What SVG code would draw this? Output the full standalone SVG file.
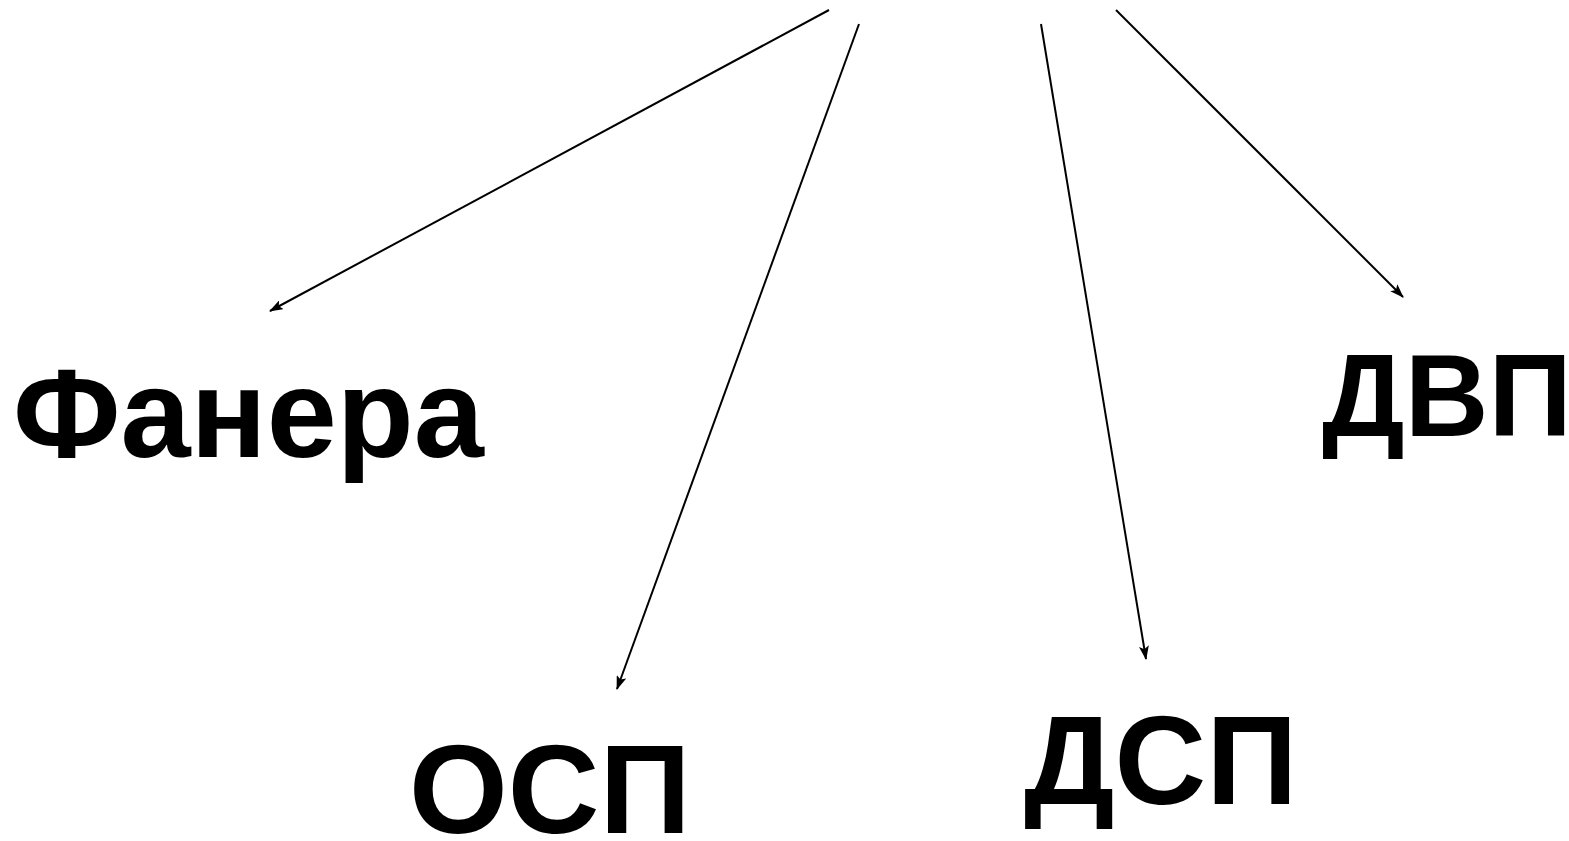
<svg xmlns="http://www.w3.org/2000/svg" width="1569" height="841" viewBox="0 0 1569 841">
<style>
.lbl{font-family:"Liberation Sans",Arial,sans-serif;font-weight:bold;fill:#000}
.c{stroke:#000;stroke-width:2;fill:none}
</style>
<defs>
<marker id="ah" markerWidth="14" markerHeight="10" refX="13" refY="5" orient="auto" markerUnits="userSpaceOnUse">
<path d="M0,0 L14,5 L0,10 L3,5 Z" fill="#000"/>
</marker>
</defs>
<rect width="1569" height="841" fill="#fff"/>
<g id="connectors">
<line class="c" x1="829" y1="10" x2="270" y2="311" marker-end="url(#ah)"/>
<line class="c" x1="859" y1="24" x2="617" y2="689" marker-end="url(#ah)"/>
<line class="c" x1="1041" y1="24" x2="1146" y2="659" marker-end="url(#ah)"/>
<line class="c" x1="1116" y1="10" x2="1403" y2="297" marker-end="url(#ah)"/>
</g>
<g id="fanera"><text class="lbl" x="13" y="457" font-size="126">Фанера</text></g>
<g id="osp"><text class="lbl" x="409" y="833" font-size="127">ОСП</text></g>
<g id="dsp"><text class="lbl" x="1024" y="804" font-size="127">ДСП</text></g>
<g id="dvp"><text class="lbl" x="1322" y="436" font-size="116">ДВП</text></g>
</svg>
